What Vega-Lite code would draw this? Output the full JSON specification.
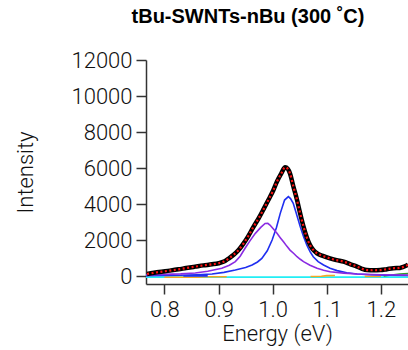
{
  "$schema": "https://vega.github.io/schema/vega-lite/v6.json",
  "autosize": "none",
  "width": 262,
  "height": 224,
  "padding": {"left": 146, "top": 60, "right": 0, "bottom": 66},
  "background": "white",
  "config": {"view": {"stroke": null}},
  "title": {
    "text": "tBu-SWNTs-nBu (300 ˚C)",
    "font": "Liberation Sans",
    "fontSize": 20,
    "fontWeight": "bold",
    "color": "#000",
    "anchor": "middle",
    "frame": "group",
    "dx": -29,
    "offset": 22
  },
  "datasets": {
    "obs": [
      {"e": 0.768, "v": 110}, {"e": 0.79, "v": 220}, {"e": 0.81, "v": 300}, {"e": 0.826, "v": 370},
      {"e": 0.84, "v": 440}, {"e": 0.857, "v": 520}, {"e": 0.872, "v": 590}, {"e": 0.888, "v": 650},
      {"e": 0.9, "v": 710}, {"e": 0.91, "v": 800}, {"e": 0.918, "v": 960}, {"e": 0.928, "v": 1180}, {"e": 0.937, "v": 1440},
      {"e": 0.946, "v": 1800}, {"e": 0.955, "v": 2220}, {"e": 0.964, "v": 2700}, {"e": 0.974, "v": 3200},
      {"e": 0.983, "v": 3700}, {"e": 0.992, "v": 4220}, {"e": 1.001, "v": 4750}, {"e": 1.008, "v": 5250},
      {"e": 1.016, "v": 5700}, {"e": 1.023, "v": 6040}, {"e": 1.028, "v": 5950}, {"e": 1.032, "v": 5700},
      {"e": 1.038, "v": 5000}, {"e": 1.045, "v": 4220}, {"e": 1.051, "v": 3450}, {"e": 1.057, "v": 2740},
      {"e": 1.063, "v": 2150}, {"e": 1.069, "v": 1720}, {"e": 1.075, "v": 1450}, {"e": 1.082, "v": 1260},
      {"e": 1.094, "v": 1100}, {"e": 1.106, "v": 980}, {"e": 1.118, "v": 880}, {"e": 1.131, "v": 800},
      {"e": 1.143, "v": 660}, {"e": 1.156, "v": 520}, {"e": 1.165, "v": 400}, {"e": 1.174, "v": 330},
      {"e": 1.186, "v": 320}, {"e": 1.199, "v": 330}, {"e": 1.211, "v": 380}, {"e": 1.223, "v": 430},
      {"e": 1.235, "v": 450}, {"e": 1.25, "v": 620}
    ],
    "comp": [
      {"s": "base", "g": "c", "e": 0.766, "v": -60}, {"s": "base", "g": "c", "e": 1.25, "v": -60},
      {"s": "orange", "g": "o1", "e": 0.8, "v": -70}, {"s": "orange", "g": "o1", "e": 0.86, "v": -70}, {"s": "orange", "g": "o1", "e": 0.88, "v": -40}, {"s": "orange", "g": "o1", "e": 0.915, "v": -40},
      {"s": "orange", "g": "o2", "e": 1.07, "v": -30}, {"s": "orange", "g": "o2", "e": 1.09, "v": -10}, {"s": "orange", "g": "o2", "e": 1.1, "v": 20}, {"s": "orange", "g": "o2", "e": 1.115, "v": 30},
      {"s": "orange", "g": "o3", "e": 1.17, "v": -20}, {"s": "orange", "g": "o3", "e": 1.2, "v": -20},
      {"s": "green", "g": "gr", "e": 1.205, "v": 0}, {"s": "green", "g": "gr", "e": 1.22, "v": 60}, {"s": "green", "g": "gr", "e": 1.235, "v": 110}, {"s": "green", "g": "gr", "e": 1.25, "v": 140},
      {"s": "blue", "g": "b2", "e": 0.835, "v": 10}, {"s": "blue", "g": "b2", "e": 0.86, "v": 20}, {"s": "blue", "g": "b2", "e": 0.88, "v": 10},
      {"s": "blue", "g": "b1", "e": 0.766, "v": 20}, {"s": "blue", "g": "b1", "e": 0.8, "v": 30}, {"s": "blue", "g": "b1", "e": 0.83, "v": 40},
      {"s": "blue", "g": "b1", "e": 0.86, "v": 70}, {"s": "blue", "g": "b1", "e": 0.888, "v": 110}, {"s": "blue", "g": "b1", "e": 0.91, "v": 200},
      {"s": "blue", "g": "b1", "e": 0.931, "v": 330}, {"s": "blue", "g": "b1", "e": 0.95, "v": 470}, {"s": "blue", "g": "b1", "e": 0.962, "v": 610},
      {"s": "blue", "g": "b1", "e": 0.972, "v": 780}, {"s": "blue", "g": "b1", "e": 0.98, "v": 980}, {"s": "blue", "g": "b1", "e": 0.99, "v": 1400},
      {"s": "blue", "g": "b1", "e": 0.999, "v": 2000}, {"s": "blue", "g": "b1", "e": 1.007, "v": 2700}, {"s": "blue", "g": "b1", "e": 1.014, "v": 3480},
      {"s": "blue", "g": "b1", "e": 1.022, "v": 4220}, {"s": "blue", "g": "b1", "e": 1.029, "v": 4410}, {"s": "blue", "g": "b1", "e": 1.033, "v": 4300},
      {"s": "blue", "g": "b1", "e": 1.038, "v": 4040}, {"s": "blue", "g": "b1", "e": 1.044, "v": 3450}, {"s": "blue", "g": "b1", "e": 1.051, "v": 2740},
      {"s": "blue", "g": "b1", "e": 1.057, "v": 2200}, {"s": "blue", "g": "b1", "e": 1.063, "v": 1720}, {"s": "blue", "g": "b1", "e": 1.069, "v": 1350},
      {"s": "blue", "g": "b1", "e": 1.075, "v": 1070}, {"s": "blue", "g": "b1", "e": 1.084, "v": 800}, {"s": "blue", "g": "b1", "e": 1.094, "v": 610},
      {"s": "blue", "g": "b1", "e": 1.106, "v": 430}, {"s": "blue", "g": "b1", "e": 1.119, "v": 300}, {"s": "blue", "g": "b1", "e": 1.137, "v": 180},
      {"s": "blue", "g": "b1", "e": 1.156, "v": 110}, {"s": "blue", "g": "b1", "e": 1.18, "v": 70}, {"s": "blue", "g": "b1", "e": 1.21, "v": 40},
      {"s": "blue", "g": "b1", "e": 1.25, "v": 30},
      {"s": "purple", "g": "p", "e": 0.766, "v": 60}, {"s": "purple", "g": "p", "e": 0.8, "v": 90}, {"s": "purple", "g": "p", "e": 0.83, "v": 120},
      {"s": "purple", "g": "p", "e": 0.857, "v": 170}, {"s": "purple", "g": "p", "e": 0.88, "v": 260}, {"s": "purple", "g": "p", "e": 0.906, "v": 430},
      {"s": "purple", "g": "p", "e": 0.92, "v": 600}, {"s": "purple", "g": "p", "e": 0.931, "v": 800}, {"s": "purple", "g": "p", "e": 0.94, "v": 1100},
      {"s": "purple", "g": "p", "e": 0.949, "v": 1540}, {"s": "purple", "g": "p", "e": 0.958, "v": 1950}, {"s": "purple", "g": "p", "e": 0.968, "v": 2370},
      {"s": "purple", "g": "p", "e": 0.978, "v": 2700}, {"s": "purple", "g": "p", "e": 0.986, "v": 2920}, {"s": "purple", "g": "p", "e": 0.991, "v": 2930},
      {"s": "purple", "g": "p", "e": 0.995, "v": 2830}, {"s": "purple", "g": "p", "e": 1.001, "v": 2620}, {"s": "purple", "g": "p", "e": 1.008, "v": 2370},
      {"s": "purple", "g": "p", "e": 1.014, "v": 2130}, {"s": "purple", "g": "p", "e": 1.02, "v": 1900}, {"s": "purple", "g": "p", "e": 1.026, "v": 1660},
      {"s": "purple", "g": "p", "e": 1.032, "v": 1440}, {"s": "purple", "g": "p", "e": 1.039, "v": 1250}, {"s": "purple", "g": "p", "e": 1.045, "v": 1070},
      {"s": "purple", "g": "p", "e": 1.051, "v": 930}, {"s": "purple", "g": "p", "e": 1.057, "v": 800}, {"s": "purple", "g": "p", "e": 1.069, "v": 600},
      {"s": "purple", "g": "p", "e": 1.082, "v": 430}, {"s": "purple", "g": "p", "e": 1.094, "v": 320}, {"s": "purple", "g": "p", "e": 1.106, "v": 240},
      {"s": "purple", "g": "p", "e": 1.131, "v": 160}, {"s": "purple", "g": "p", "e": 1.156, "v": 110}, {"s": "purple", "g": "p", "e": 1.2, "v": 70},
      {"s": "purple", "g": "p", "e": 1.25, "v": 50}
    ]
  },
  "encoding": {
    "x": {
      "field": "e", "type": "quantitative",
      "scale": {"domain": [0.766, 1.25], "nice": false, "zero": false},
      "axis": {
        "title": "Energy (eV)", "values": [0.8, 0.9, 1.0, 1.1, 1.2], "format": ".1f",
        "grid": false, "domainColor": "#333", "domainWidth": 1.5, "tickColor": "#333", "tickWidth": 1.5, "tickSize": 10,
        "labelFont": "Roboto", "labelFontWeight": 300, "labelFontSize": 22, "labelColor": "#111", "labelPadding": 5, "labelFlush": false,
        "titleFont": "Roboto", "titleFontWeight": 300, "titleFontSize": 22, "titleColor": "#111", "titlePadding": 3
      }
    },
    "y": {
      "field": "v", "type": "quantitative",
      "scale": {"domain": [-444, 12000], "nice": false, "zero": false},
      "axis": {
        "title": "Intensity", "values": [0, 2000, 4000, 6000, 8000, 10000, 12000], "format": "d",
        "grid": false, "domainColor": "#333", "domainWidth": 1.5, "tickColor": "#333", "tickWidth": 1.5, "tickSize": 10,
        "labelFont": "Roboto", "labelFontWeight": 300, "labelFontSize": 22, "labelColor": "#111", "labelPadding": 4,
        "titleFont": "Roboto", "titleFontWeight": 300, "titleFontSize": 22, "titleColor": "#111", "titlePadding": 33
      }
    }
  },
  "layer": [
    {
      "data": {"name": "comp"},
      "mark": {"type": "line", "clip": true, "strokeWidth": 1.6},
      "encoding": {
        "color": {
          "field": "s", "type": "nominal", "legend": null,
          "scale": {"domain": ["base", "orange", "green", "blue", "purple"], "range": ["#22eef5", "#f5a623", "#2a9d2a", "#1f2ff0", "#8a2be2"]}
        },
        "detail": {"field": "g"},
        "strokeWidth": {"condition": {"test": "datum.s === 'base'", "value": 2.5}, "value": 1.6},
        "order": {"field": "e", "type": "quantitative"}
      }
    },
    {
      "data": {"name": "obs"},
      "mark": {"type": "line", "clip": true, "color": "#000", "strokeWidth": 4.5, "interpolate": "monotone"},
      "encoding": {}
    },
    {
      "data": {"name": "obs"},
      "mark": {"type": "line", "clip": true, "color": "#ff1010", "strokeWidth": 2.2, "strokeDash": [2, 2.5], "interpolate": "monotone"},
      "encoding": {}
    }
  ]
}
